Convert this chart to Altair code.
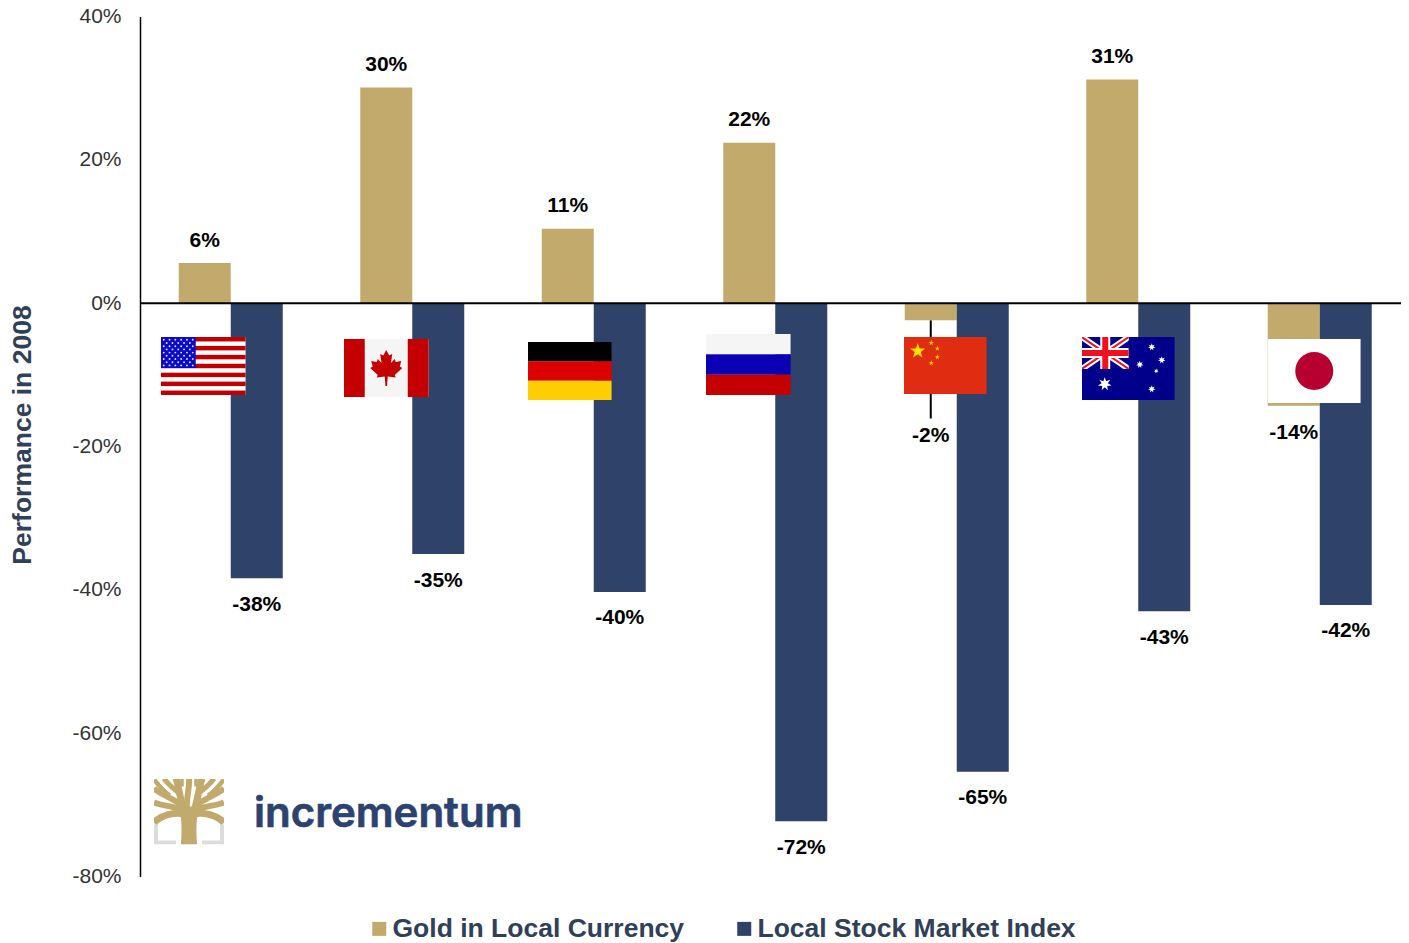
import math
from urllib.parse import quote
import altair as alt
import pandas as pd

# ---- data
countries = ["USA", "Canada", "Germany", "Russia", "China", "Australia", "Japan"]
gold_values = [5.6, 30.1, 10.4, 22.4, -2.4, 31.2, -14.3]
stock_values = [-38.4, -35.0, -40.3, -72.3, -65.4, -43.0, -42.1]
gold_labels = ["6%", "30%", "11%", "22%", "-2%", "31%", "-14%"]
stock_labels = ["-38%", "-35%", "-40%", "-72%", "-65%", "-43%", "-42%"]
series_names = ["Gold in Local Currency", "Local Stock Market Index"]
y_ticks = [40, 20, 0, -20, -40, -60, -80]

GOLD = "#c1aa6b"
NAVY = "#2f4269"
SLATE = "#2f4058"
FONT = "Liberation Sans"

rows = []
for c, g, s, gl, sl in zip(countries, gold_values, stock_values, gold_labels, stock_labels):
    rows.append({"country": c, "series": series_names[0], "value": g, "label": gl})
    rows.append({"country": c, "series": series_names[1], "value": s, "label": sl})
df = pd.DataFrame(rows)


# ---- flag and logo artwork (decoration, as inline SVG images)
def uri(w, h, body):
    svg = f'<svg xmlns="http://www.w3.org/2000/svg" viewBox="0 0 {w} {h}" preserveAspectRatio="none">{body}</svg>'
    return "data:image/svg+xml," + quote(svg)


def star(cx, cy, r, fill, n=5, inner=0.4, rot=-90):
    pts = []
    for i in range(2 * n):
        rad = r if i % 2 == 0 else r * inner
        a = math.radians(rot + i * 180 / n)
        pts.append(f"{cx + rad * math.cos(a):.2f},{cy + rad * math.sin(a):.2f}")
    return f'<polygon points="{" ".join(pts)}" fill="{fill}"/>'


def usa():
    b = '<rect width="85" height="58" fill="#fff"/>'
    for i in range(0, 13, 2):
        b += f'<rect y="{i * 58 / 13:.2f}" width="85" height="{58 / 13:.2f}" fill="#c00000"/>'
    b += '<rect width="35" height="31" fill="#0a0ac8"/>'
    for r in range(9):
        cols = 6 if r % 2 == 0 else 5
        for k in range(cols):
            x = 3 + k * 5.8 + (0 if r % 2 == 0 else 2.9)
            b += f'<circle cx="{x:.1f}" cy="{2.8 + r * 3.2:.1f}" r="0.95" fill="#dfe3ff"/>'
    return uri(85, 58, b)


def canada():
    b = '<rect width="85" height="58" fill="#f5f5f5"/><rect width="21" height="58" fill="#c40000"/>'
    b += '<rect x="64" width="21" height="58" fill="#c40000"/>'
    leaf = ("M42.5,11 L45.5,16.5 L48.5,15 L47.2,24 L51,20 L52,23 L57.5,22 L56,27.5 L58.5,29 "
            "L51,36 L52,38.5 L44,37.5 L43.3,47 L41.7,47 L41,37.5 L33,38.5 L34,36 L26.5,29 "
            "L29,27.5 L27.5,22 L33,23 L34,20 L37.8,24 L36.5,15 L39.5,16.5 Z")
    b += f'<path d="{leaf}" fill="#c40000"/>'
    return uri(85, 58, b)


def germany():
    return uri(84, 58, '<rect width="84" height="19.5" fill="#000"/>'
                       '<rect y="19.3" width="84" height="19.5" fill="#dd0000"/>'
                       '<rect y="38.7" width="84" height="19.3" fill="#ffce00"/>')


def russia():
    return uri(85, 61, '<rect width="85" height="20.5" fill="#f5f5f5"/>'
                       '<rect y="20.3" width="85" height="20.5" fill="#0a00b4"/>'
                       '<rect y="40.6" width="85" height="20.4" fill="#c40000"/>')


def china():
    b = '<rect width="83" height="57" fill="#e02c10"/>'
    b += star(14, 14, 8, "#ffdf00")
    for x, y in [(27.5, 5.8), (33.5, 11.5), (33.5, 20), (27.5, 26)]:
        b += star(x, y, 2.7, "#ffdf00")
    return uri(83, 57, b)


def australia():
    b = '<rect width="93" height="63" fill="#00008b"/><clipPath id="j"><rect width="47" height="32"/></clipPath>'
    b += '<g clip-path="url(#j)">'
    b += '<path d="M0,0 L47,32 M47,0 L0,32" stroke="#fff" stroke-width="6"/>'
    b += '<path d="M0,0 L47,32 M47,0 L0,32" stroke="#f01020" stroke-width="2"/>'
    b += '<path d="M23.5,0 V32 M0,16 H47" stroke="#fff" stroke-width="10"/>'
    b += '<path d="M23.5,0 V32 M0,16 H47" stroke="#f01020" stroke-width="6"/></g>'
    b += star(23, 47, 7, "#fff", n=7, inner=0.45)
    for x, y, r in [(70, 10, 3.8), (80, 23, 3.8), (58, 27.5, 3.8), (74.5, 34, 2.4), (70, 52, 3.8)]:
        b += star(x, y, r, "#fff", n=7, inner=0.45)
    return uri(93, 63, b)


def japan():
    return uri(93, 64, '<rect width="93" height="64" fill="#fff"/><circle cx="46.5" cy="32" r="19" fill="#b80030"/>')


def tree():
    b = '<path d="M2,46 V64 H22 M68,46 V64 H48" fill="none" stroke="#dcdcdc" stroke-width="4"/>'
    b += '<clipPath id="t"><rect width="70" height="66"/></clipPath><g clip-path="url(#t)" fill="none" stroke="#c1aa6b">'
    branches = [
        ("M31,34 C26,24 26,12 22,0", 7), ("M39,34 C44,24 44,12 48,0", 7),
        ("M33,30 C32,18 36,10 35,0", 6), ("M24,14 C20,10 14,6 10,0", 5),
        ("M46,14 C50,10 56,6 60,0", 5), ("M29,28 C20,20 10,18 0,10", 6),
        ("M41,28 C50,20 60,18 70,10", 6), ("M29,32 C20,27 10,28 0,24", 6),
        ("M41,32 C50,27 60,28 70,24", 6), ("M28,35 C20,34 8,36 0,44", 7),
        ("M42,35 C50,34 62,36 70,44", 7), ("M16,17 C10,14 6,8 0,1", 4.5),
        ("M54,17 C60,14 64,8 70,1", 4.5), ("M28,8 L28,0", 3.5), ("M42,8 L42,0", 3.5),
    ]
    for d, w in branches:
        b += f'<path d="{d}" stroke-width="{w}"/>'
    b += '</g><path d="M27,66 C28,50 28,38 24,28 L46,28 C42,38 42,50 43,66 Z" fill="#c1aa6b"/>'
    return uri(70, 66, b)


# flag: country, art, width, height, x shift from group centre, centre y in pixels from the plot top
flags = [
    ("USA", usa(), 85, 58, -27.5, 349.5),
    ("Canada", canada(), 85, 58, -26, 351.5),
    ("Germany", germany(), 84, 58, -24, 354.5),
    ("Russia", russia(), 85, 61, -27, 348),
    ("China", china(), 83, 57, -11.5, 349),
    ("Australia", australia(), 93, 63, -10, 352),
    ("Japan", japan(), 93, 64, -5.5, 354.5),
]

# ---- scales and layers
x_enc = alt.X("country:N", sort=countries, axis=None,
              scale=alt.Scale(range=[0, 1270.5], paddingInner=0.4270, paddingOuter=0.2135))
x_off = alt.XOffset("series:N", sort=series_names, scale=alt.Scale(padding=0))
y_enc = alt.Y("value:Q", scale=alt.Scale(domain=[-80, 40], nice=False),
              axis=alt.Axis(values=y_ticks, grid=False, ticks=False, domainColor="#000000", domainWidth=1.5,
                            labelExpr="datum.value + '%'", labelFont=FONT, labelFontSize=21,
                            labelColor="#333333", labelPadding=19,
                            title="Performance in 2008", titleFont=FONT, titleFontSize=26.5, titleFontWeight="bold",
                            titleColor=SLATE, titleX=-118, titleY=418, titleAlign="center", titleBaseline="middle"))

base = alt.Chart(df)
bars = base.mark_bar(size=52).encode(
    x=x_enc, xOffset=x_off, y=y_enc,
    color=alt.Color("series:N", sort=series_names,
                    scale=alt.Scale(domain=series_names, range=[GOLD, NAVY]),
                    legend=alt.Legend(title=None, orient="none", legendX=226, legendY=899, direction="horizontal",
                                      columns=2, columnPadding=46, symbolType="square", symbolSize=196,
                                      symbolStrokeWidth=0, labelFont=FONT, labelFontSize=26.5, labelFontWeight="bold",
                                      labelColor=SLATE, labelOffset=0, labelLimit=400, padding=0)),
)
zero = alt.Chart(pd.DataFrame({"v": [0]})).mark_rule(color="#000000", strokeWidth=2).encode(y=alt.Y("v:Q"))
leader = (base.transform_filter("datum.country == 'China' && datum.series == '%s'" % series_names[0])
          .mark_rule(color="#000000", strokeWidth=2)
          .encode(x=x_enc, xOffset=x_off, y=alt.Y("value:Q"), y2=alt.value(402)))

flag_layers = []
for name, art, w, h, dx, cy in flags:
    flag_layers.append(
        alt.Chart(pd.DataFrame({"country": [name]}))
        .mark_image(url=art, width=w, height=h, xOffset=dx, align="center", baseline="middle", aspect=False)
        .encode(x=x_enc, y=alt.value(cy))
    )


def labels(cond, dy):
    return (base.transform_filter(cond)
            .mark_text(font=FONT, fontSize=21, fontWeight="bold", color="#000000", dy=dy, baseline="middle")
            .encode(x=x_enc, xOffset=x_off, y=alt.Y("value:Q"), text="label:N"))


label_up = labels("datum.value > 0", -22.5)
label_down = labels("datum.value < 0 && datum.label != '-2%' && datum.label != '-14%'", 26.5)
label_cn = labels("datum.label == '-2%'", 115.5)
label_jp = labels("datum.label == '-14%'", 27.5)

logo_img = (alt.Chart(pd.DataFrame({"a": [0]}))
            .mark_image(url=tree(), width=70, height=66, align="left", baseline="top", aspect=False)
            .encode(x=alt.value(14), y=alt.value(762)))
logo_txt = (alt.Chart(pd.DataFrame({"t": ["incrementum"]}))
            .mark_text(font="Inter", fontSize=42, fontWeight=600, color="#2c4270", stroke="#2c4270", strokeWidth=0.7,
                       align="left", baseline="middle")
            .encode(x=alt.value(114), y=alt.value(797), text="t:N"))

chart = alt.layer(bars, zero, leader, *flag_layers, label_up, label_down, label_cn, label_jp, logo_img, logo_txt).properties(
    width=1261, height=860,
    padding={"left": 132, "top": 8.5, "right": 0, "bottom": 72},
    autosize=alt.AutoSizeParams(type="none"),
    background="#ffffff",
).configure_view(stroke=None)

chart.save("out.html", embed_options={"renderer": "svg", "actions": False})
